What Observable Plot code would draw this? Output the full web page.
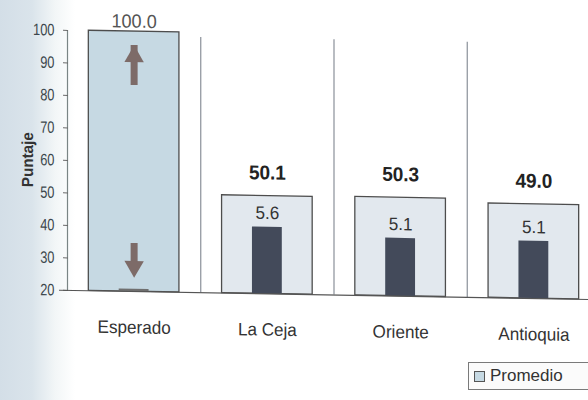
<!DOCTYPE html>
<html>
<head>
<meta charset="utf-8">
<script src="https://cdn.jsdelivr.net/npm/d3@7"></script>
<script src="https://cdn.jsdelivr.net/npm/@observablehq/plot@0.6"></script>
<style>
  html, body { margin: 0; padding: 0; }
  body {
    width: 588px; height: 400px; overflow: hidden;
    background: linear-gradient(to right, #d3dee7 0px, #dae4eb 32px, #f2f6f7 55px, #ffffff 75px);
    font-family: "Liberation Sans", Arial, sans-serif;
  }
  #chart svg { display: block; }
  #legend { position: relative; height: 42px; }
  #legend .box {
    position: absolute; left: 468px; top: 4px; width: 130px; height: 28px;
    border: 1px solid #7a7a7a; box-sizing: border-box;
    display: flex; align-items: center; background: #fbfbfb;
  }
  #legend .sw { width: 9px; height: 9px; border: 1px solid #555; background: #c6d9e3; margin-left: 5px; }
  #legend .lb { font-size: 17px; color: #333; margin-left: 5px; }
</style>
</head>
<body>
<div id="chart"></div>
<div id="legend"><div class="box"><span class="sw"></span><span class="lb">Promedio</span></div></div>
<script>
// ---- data ----
const categories = ["Esperado", "La Ceja", "Oriente", "Antioquia"];
const means = [100.0, 50.1, 50.3, 49.0];          // "Promedio" bars (light boxes)
const sdLabels = [null, 5.6, 5.1, 5.1];           // numbers above the dark bars
const darkTops = [20.7, 40.5, 37.8, 37.6];        // tops of the dark inner bars (score scale)
const yTicks = [20, 30, 40, 50, 60, 70, 80, 90, 100];
const arrowTails = [86.5, 34.8];                  // Esperado arrows (score scale)
const arrowTips = [95.7, 24.3];

const rows = categories.map((c, i) => ({i, c, mean: means[i], sd: sdLabels[i], dark: darkTops[i]}));
const arrows = arrowTails.map((t, k) => ({tail: t, tip: arrowTips[k]}));
const up = arrows.filter(a => a.tip > a.tail);
const down = arrows.filter(a => a.tip < a.tail);

const arrowColor = "#7d6b68";

const chart = Plot.plot({
  width: 588,
  height: 358,
  marginLeft: 68,
  marginRight: 0,
  marginTop: 31,
  marginBottom: 67,
  x: {domain: [0, 4], range: [67, 600]},
  y: {domain: [20, 100]},
  style: {background: "transparent", fontFamily: "'Liberation Sans', Arial, sans-serif"},
  marks: [
    // separators between categories
    Plot.ruleX([1, 2, 3], {y1: 20, y2: 101, insetBottom: -8, stroke: "#8a9099", strokeWidth: 1.2}),
    // y axis
    Plot.ruleX([0], {y1: 20, y2: 100, stroke: "#7a8585", strokeWidth: 1.2}),
    Plot.axisY(yTicks, {tickSize: 5, tickPadding: 9, fontSize: 16.5, fill: "#3c474c", stroke: "#6a6a6a", label: null}),
    // bars
    Plot.rectY(rows, {
      x1: d => d.i + 0.16, x2: d => d.i + 0.84, y1: 20, y2: "mean",
      fill: d => d.i === 0 ? "#c6d9e3" : "#e2e8ee", stroke: "#4d4d4d", strokeWidth: 1.3
    }),
    Plot.rectY(rows, {
      x1: d => d.i + 0.5 - 0.112, x2: d => d.i + 0.5 + 0.112, y1: 20, y2: "dark",
      fill: d => d.i === 0 ? "#6f6f6f" : "#434a5a"
    }),
    // baseline
    Plot.ruleY([20], {insetLeft: -9, stroke: "#555", strokeWidth: 1.2}),
    // Esperado arrows
    Plot.ruleX(up, {x: 0.5, y1: "tail", y2: "tip", insetTop: 10, stroke: arrowColor, strokeWidth: 7}),
    Plot.dot(up, {x: 0.5, y: "tip", symbol: "triangle", r: 7.2, dy: 11, fill: arrowColor, stroke: null}),
    Plot.ruleX(down, {x: 0.5, y1: "tail", y2: "tip", insetBottom: 10, stroke: arrowColor, strokeWidth: 7}),
    Plot.dot(down, {x: 0.5, y: "tip", symbol: "triangle", rotate: 180, r: 7.2, dy: -11, fill: arrowColor, stroke: null}),
    // labels
    Plot.text(rows.filter(d => d.sd != null), {
      x: d => d.i + 0.5, y: "dark", dy: -14, text: d => d.sd.toFixed(1), fontSize: 18, fill: "#333"
    }),
    Plot.text(rows.slice(1), {
      x: d => d.i + 0.5, y: "mean", dy: -23, text: d => d.mean.toFixed(1), fontSize: 20, fontWeight: "bold", fill: "#222"
    }),
    Plot.text(rows.slice(0, 1), {
      x: d => d.i + 0.5, y: "mean", dy: -10, text: d => d.mean.toFixed(1), fontSize: 19, fill: "#555"
    }),
    // category axis
    Plot.axisX([0.5, 1.5, 2.5, 3.5], {
      tickFormat: d => categories[Math.floor(d)], tickSize: 0, tickPadding: 29, fontSize: 18, fill: "#333", label: null
    }),
    // y label
    Plot.text(["Puntaje"], {frameAnchor: "left", textAnchor: "middle", rotate: -90, dx: -41, fontSize: 16, fontWeight: "bold", fill: "#333"})
  ]
});
chart.style.transform = "skewY(1deg)";
chart.style.transformOrigin = "130px 0px";
document.getElementById("chart").appendChild(chart);

// the reference uses a condensed face for the score ticks
d3.select(chart).selectAll('g[aria-label="y-axis tick label"] text').each(function () {
  const w = this.getComputedTextLength();
  this.setAttribute("textLength", (w * 0.78).toFixed(1));
  this.setAttribute("lengthAdjust", "spacingAndGlyphs");
});
d3.select(chart).selectAll('g[aria-label="x-axis tick label"] text, g[aria-label="text"] text').each(function () {
  const w = this.getComputedTextLength();
  this.setAttribute("textLength", (w * 0.95).toFixed(1));
  this.setAttribute("lengthAdjust", "spacingAndGlyphs");
});
</script>
</body>
</html>
